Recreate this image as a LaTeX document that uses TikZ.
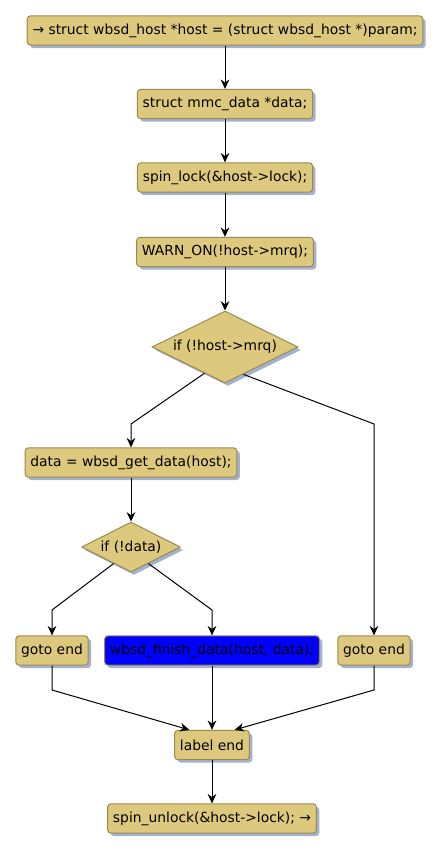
\documentclass[tikz,border=0pt]{standalone}
\usepackage{fontspec}
\setmainfont{DejaVu Sans}
\usepackage{tikz}
\usetikzlibrary{arrows.meta,positioning,calc,shapes.geometric,shadows}
\definecolor{Sand}{HTML}{DDC97D}
\definecolor{SandEdge}{HTML}{9C8A4A}
\definecolor{Shade}{HTML}{A3B1D3}
\definecolor{Wire}{HTML}{000000}
\definecolor{Hot}{HTML}{0000FF}
\tikzset{
  stmt/.style={rounded corners=2.5pt,draw=SandEdge,fill=Sand,line width=0.75pt,minimum height=22pt,inner xsep=4pt,font=\fontsize{10.4}{12}\selectfont,drop shadow={fill=Shade,opacity=1,shadow xshift=2.2pt,shadow yshift=-2.2pt}},
  hotstmt/.style={stmt,fill=Hot},
  test/.style={diamond,aspect=2,draw=SandEdge,fill=Sand,line width=0.75pt,inner sep=0pt,font=\fontsize{10.4}{12}\selectfont,drop shadow={fill=Shade,opacity=1,shadow xshift=2.2pt,shadow yshift=-2.2pt}},
  arrow/.style={-{Stealth[length=7pt,width=6.5pt]},line width=0.75pt,draw=Wire},
  link/.style={line width=0.75pt,draw=Wire}
}
\begin{document}
\begin{tikzpicture}[x=0.75pt,y=-0.75pt]
  \useasboundingbox (0,0) rectangle (440,853);
  % statements
  \node[stmt] (cast) at (225,30.5) {→ struct wbsd\_host *host = (struct wbsd\_host *)param;};
  \node[stmt] (decl) at (225,104) {struct mmc\_data *data;};
  \node[stmt] (lock) at (225,177.5) {spin\_lock(\&host->lock);};
  \node[stmt] (warn) at (225,252) {WARN\_ON(!host->mrq);};
  \node[test,minimum width=109.5pt,minimum height=54pt] (nomrq) at (225,347) {if (!host->mrq)};
  \node[stmt] (getdata) at (131,462.5) {data = wbsd\_get\_data(host);};
  \node[test,minimum width=74pt,minimum height=37.5pt] (nodata) at (131,547) {if (!data)};
  \node[stmt] (gotoa) at (52,650.5) {goto end};
  \node[hotstmt] (finish) at (212,650.5) {wbsd\_finish\_data(host, data);};
  \node[stmt] (gotob) at (374,650.5) {goto end};
  \node[stmt] (endlbl) at (212,745) {label end};
  \node[stmt] (unlock) at (212,818.5) {spin\_unlock(\&host->lock); →};
  % bends
  \coordinate (bl) at (131,424);
  \coordinate (br) at (374,424);
  \coordinate (cl) at (52,610);
  \coordinate (cr) at (212,610);
  \coordinate (jl) at (52,690);
  \coordinate (jr) at (374,690);
  % connectors
  \draw[arrow] (cast) -- (decl);
  \draw[arrow] (decl) -- (lock);
  \draw[arrow] (lock) -- (warn);
  \draw[arrow] (warn) -- (nomrq);
  \draw[arrow] ($(nomrq.south)!0.28!(nomrq.west)$) -- (bl) -- (getdata);
  \draw[arrow] ($(nomrq.south)!0.25!(nomrq.east)$) -- (br) -- (gotob);
  \draw[arrow] (getdata) -- (nodata);
  \draw[arrow] ($(nodata.south)!0.35!(nodata.west)$) -- (cl) -- (gotoa);
  \draw[arrow] ($(nodata.south)!0.35!(nodata.east)$) -- (cr) -- (finish);
  \draw[arrow] (gotoa) -- (jl) -- ($(endlbl.north west)!0.2!(endlbl.north east)$);
  \draw[arrow] (finish) -- (endlbl);
  \draw[arrow] (gotob) -- (jr) -- ($(endlbl.north east)!0.2!(endlbl.north west)$);
  \draw[arrow] (endlbl) -- (unlock);
\end{tikzpicture}
\end{document}
